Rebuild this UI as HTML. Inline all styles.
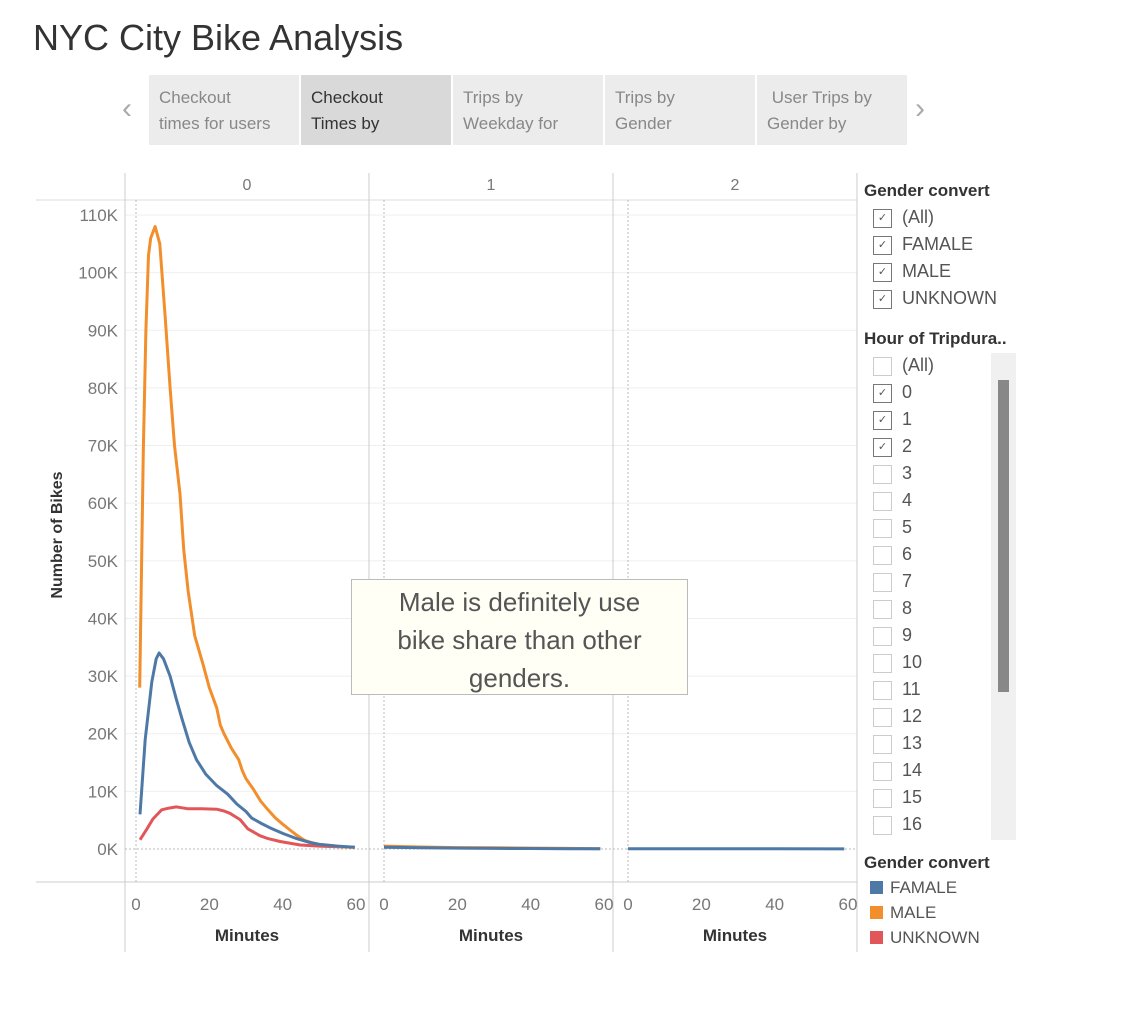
<!DOCTYPE html>
<html><head><meta charset="utf-8"><style>
body{margin:0;width:1129px;height:1011px;background:#fff;font-family:"Liberation Sans",sans-serif;overflow:hidden;position:relative}
.title{position:absolute;left:33px;top:17px;font-size:36px;color:#333}
.tab{position:absolute;top:75px;width:150px;height:70px;background:#ececec;color:#888;font-size:17px;line-height:26px;box-sizing:border-box;padding:10px 10px}
.tab.active{background:#d9d9d9;color:#333}
.arrow{position:absolute;top:92px;font-size:30px;color:#aaa}
.side{position:absolute;left:864px;font-size:17px;color:#333;font-weight:bold}
.cb{position:absolute;left:873px;width:19px;height:19px;border:1px solid #777;box-sizing:border-box;font-size:11px;color:#555;text-align:center;line-height:17px}
.cb.off{border-color:#ccc}
.lbl{position:absolute;left:902px;font-size:18px;color:#555}
.sw{position:absolute;left:870px;width:13px;height:13px}
.lg{position:absolute;left:890px;font-size:17px;color:#555}
</style></head><body>
<div class="title">NYC City Bike Analysis</div>
<div class="arrow" style="left:122px">&#x2039;</div>
<div class="arrow" style="left:915px">&#x203A;</div>
<div class="tab" style="left:149px">Checkout<br>times for users</div>
<div class="tab active" style="left:301px">Checkout<br>Times by</div>
<div class="tab" style="left:453px">Trips by<br>Weekday for</div>
<div class="tab" style="left:605px">Trips by<br>Gender</div>
<div class="tab" style="left:757px">&nbsp;User Trips by<br>Gender by</div>

<svg id="chart" width="1129" height="1011" style="position:absolute;left:0;top:0"></svg>

<div style="position:absolute;left:351px;top:579px;width:337px;height:116px;box-sizing:border-box;background:#fffff6;border:1px solid #bbb;color:#555;font-size:26px;line-height:38px;text-align:center;padding-top:3px">Male is definitely use<br>bike share than other<br>genders.</div>

<div class="side" style="top:181px">Gender convert</div>
<div class="side" style="top:329px">Hour of Tripdura..</div>
<div id="filters"></div>
<div style="position:absolute;left:991px;top:353px;width:25px;height:487px;background:#f0f0f0"></div>
<div style="position:absolute;left:998px;top:380px;width:11px;height:312px;background:#888"></div>

<div class="side" style="top:853px">Gender convert</div>
<div class="sw" style="top:881px;background:#4e79a7"></div>
<div class="lg" style="top:878px">FAMALE</div>
<div class="sw" style="top:906px;background:#f28e2b"></div>
<div class="lg" style="top:903px">MALE</div>
<div class="sw" style="top:931px;background:#e15759"></div>
<div class="lg" style="top:928px">UNKNOWN</div>

<script>
const panels=["0","1","2"];
const yTicks=[0,10,20,30,40,50,60,70,80,90,100,110];
const xTicks=[0,20,40,60];
// panel 0 (values in K)
const maleMin=[1,2,2.7,3.4,4,5.2,6.5,8,9.3,10.5,12,13,14.2,16,18.3,20,22,23,24,26,28,29,30,32,34,36,38,40,42,44,46,48,50,53,56,59.5];
const maleVal=[28,69,90,103,106,108,105,92,80,70,61.6,52,44.8,37,32,28,24.5,21.5,20,17.5,15.5,13.6,12.2,10.4,8.3,6.8,5.4,4.3,3.3,2.3,1.5,1.1,0.8,0.6,0.4,0.3];
const femMin=[1.1,2.5,4.3,5.5,6.3,7.5,9.3,11,12.5,14.5,16.5,19,22,25,27.5,30,31.5,34,36.5,40,43.8,47,50,55,59.7];
const femVal=[6,19,29,33,34,33,30,26,22.7,18.5,15.5,13,11,9.5,7.8,6.5,5.4,4.5,3.7,2.7,1.8,1.2,0.8,0.5,0.3];
const unkMin=[1.1,3,4.6,7,9,11,14,18,22,24,25.6,28.4,30.5,33.8,36,39.3,44.8,50,55,59.5];
const unkVal=[1.6,3.5,5.2,6.8,7.1,7.3,7,7,6.9,6.6,6.2,5.1,3.5,2.3,1.8,1.3,0.7,0.5,0.4,0.3];
// panels 1 and 2
const p1Min=[0,10,20,30,40,50,59];
const p1Fem=[0.3,0.2,0.15,0.1,0.08,0.05,0.03];
const p1Male=[0.5,0.35,0.25,0.2,0.15,0.1,0.05];
const p2Min=[0,20,40,59];
const p2Fem=[0.05,0.04,0.03,0.02];

const svg=document.getElementById('chart');
const NS='http://www.w3.org/2000/svg';
function mk(t,a,name,parent){const e=document.createElementNS(NS,t);for(const k in a)e.setAttribute(k,a[k]);


(parent||svg).appendChild(e);return e;}
const x0s=[136,384,628];
const xs=(p,m)=>x0s[p]+m*220/60;
const ys=v=>849-v*(849-215)/110;

yTicks.forEach(t=>{if(t>0)mk('line',{x1:125,x2:857,y1:ys(t),y2:ys(t),stroke:'#efefef','stroke-width':1},'gridline-'+t+'k');
 const tx=mk('text',{x:118,y:ys(t)+6,'text-anchor':'end','font-size':17,fill:'#777'},'y-tick-'+t+'k');tx.textContent=t+'K';});
mk('line',{x1:36,x2:857,y1:882,y2:882,stroke:'#ccc'},'x-axis-line');
mk('line',{x1:36,x2:857,y1:200,y2:200,stroke:'#ddd'},'header-line');
[125,369,613,857].forEach((x,i)=>mk('line',{x1:x,x2:x,y1:173,y2:952,stroke:'#ccc'},'panel-divider-'+i));
mk('line',{x1:125,x2:857,y1:849,y2:849,stroke:'#bbb','stroke-dasharray':'2,2'},'zero-line');
panels.forEach((p,i)=>{
 mk('line',{x1:x0s[i],x2:x0s[i],y1:200,y2:882,stroke:'#bbb','stroke-dasharray':'2,2'},'x-zero-line-'+p);
 const h=mk('text',{x:[247,491,735][i],y:190,'text-anchor':'middle','font-size':16,fill:'#777'},'panel-header-'+p);h.textContent=p;
 xTicks.forEach(t=>{const tx=mk('text',{x:xs(i,t),y:910,'text-anchor':'middle','font-size':17,fill:'#777'},'x-tick-'+p+'-'+t);tx.textContent=t;});
 const mt=mk('text',{x:[247,491,735][i],y:941,'text-anchor':'middle','font-size':17,'font-weight':'bold',fill:'#333'},'x-axis-title-'+p);mt.textContent='Minutes';
});
const yt=mk('text',{x:0,y:0,transform:'translate(62,535) rotate(-90)','text-anchor':'middle','font-size':16,'font-weight':'bold',fill:'#333'},'y-axis-title');yt.textContent='Number of Bikes';
function line(p,mins,vals,color,name){const d=mins.map((m,i)=>(i?'L':'M')+xs(p,m).toFixed(1)+','+ys(vals[i]).toFixed(1)).join(' ');
 mk('path',{d:d,fill:'none',stroke:color,'stroke-width':3,'stroke-linejoin':'round'},name);}
line(0,unkMin,unkVal,'#e15759','line-unknown-0');
line(0,maleMin,maleVal,'#f28e2b','line-male-0');
line(0,femMin,femVal,'#4e79a7','line-famale-0');
line(1,p1Min,p1Male,'#f28e2b','line-male-1');
line(1,p1Min,p1Fem,'#4e79a7','line-famale-1');
line(2,p2Min,p2Fem,'#4e79a7','line-famale-2');

const f=document.getElementById('filters');
function item(top,label,on,name){
 const c=document.createElement('div');c.className='cb'+(on?'':' off');c.style.top=(top+1)+'px';c.textContent=on?'\u2713':'';
 
 
 f.appendChild(c);
 const l=document.createElement('div');l.className='lbl';l.style.top=(top-1)+'px';l.textContent=label;
 
 
 f.appendChild(l);}
const genderItems=['(All)','FAMALE','MALE','UNKNOWN'];
genderItems.forEach((g,i)=>item(208+i*27,g,true,'gender-filter-'+i));
const hourItems=['(All)','0','1','2','3','4','5','6','7','8','9','10','11','12','13','14','15','16'];
hourItems.forEach((h,i)=>item(356+i*27,h,h==='0'||h==='1'||h==='2','hour-filter-'+i));
</script>
</body></html>
